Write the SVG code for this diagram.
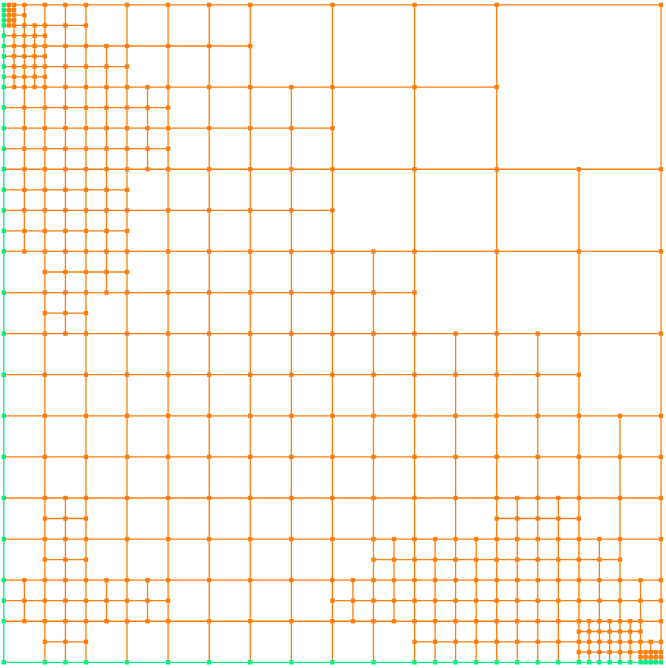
<svg xmlns="http://www.w3.org/2000/svg" width="666" height="668" viewBox="0 0 666 668">
<style>
.eo{fill:none;stroke:#ff7f0e;stroke-width:1.3}
.eg{fill:none;stroke:#00f080;stroke-width:1.3}
.no{fill:none;stroke:none;marker-start:url(#mo);marker-mid:url(#mo);marker-end:url(#mo)}
.ng{fill:none;stroke:none;marker-start:url(#mg);marker-mid:url(#mg);marker-end:url(#mg)}
</style>
<defs>
<marker id="mo" markerUnits="userSpaceOnUse" markerWidth="0.106" markerHeight="0.106" refX="0.053" refY="0.053" overflow="visible"><rect width="0.106" height="0.106" fill="#ff7f0e"/></marker>
<marker id="mg" markerUnits="userSpaceOnUse" markerWidth="0.106" markerHeight="0.106" refX="0.053" refY="0.053" overflow="visible"><rect width="0.106" height="0.106" fill="#00f080"/></marker>
</defs>
<rect width="666" height="668" fill="#ffffff"/>
<g transform="translate(3.8,4.9) scale(41.075,41.09)">
<g id="connectors">
<path class="eo" vector-effect="non-scaling-stroke" d="M0 0H16M0 .125H.25M0 .25H.5M0 .375H.25M0 .5H2M0 .75H1M0 1H6M0 1.25H1M0 1.5H3M0 1.75H1M0 2H12M0 2.5H4M0 3H8M0 3.5H4M0 4H16M0 4.5H3M0 5H8M0 5.5H3M0 6H16M1 6.5H3M0 7H10M1 7.5H2M0 8H16M0 9H14M0 10H16M0 11H16M0 12H16M1 12.5H2M12 12.5H14M0 13H16M1 13.5H2M9 13.5H15M0 14H16M0 14.5H4M8 14.5H16M0 15H16M14 15.25H15.5M1 15.5H2M10 15.5H16M14 15.75H16M15.5 15.875H16"/>
<path class="eo" vector-effect="non-scaling-stroke" d="M.125 0V.5M.25 0V2M.5 0V6M.5 14V15M.75 .5V2M1 0V16M1.5 0V8M1.5 12V16M2 0V16M2.5 1V7M2.5 14V15M3 0V16M3.5 2V4M3.5 14V15M4 0V16M5 0V16M6 0V16M7 2V16M8 0V16M8.5 14V15M9 6V16M9.5 13V15M10 0V16M10.5 13V16M11 8V16M11.5 13V16M12 0V16M12.5 12V16M13 8V16M13.5 12V16M14 4V16M14.25 15V16M14.5 13V16M14.75 15V16M15 10V16M15.25 15V16M15.5 14V16M15.625 15.75V16M15.75 15.5V16M15.875 15.75V16M16 0V16"/>
<path class="eg" vector-effect="non-scaling-stroke" d="M0 0V16M0 16H16"/>
</g>
<g id="nodes">
<path class="no" d="M.125 0H.25H.5H1H1.5H2H3H4H5H6H8H10H12H16"/>
<path class="no" d="M.125 .125H.25"/>
<path class="no" d="M.125 .25H.25H.5"/>
<path class="no" d="M.125 .375H.25"/>
<path class="no" d="M.125 .5H.25H.5H.75H1H1.5H2"/>
<path class="no" d="M.25 .75H.5H.75H1"/>
<path class="no" d="M.25 1H.5H.75H1H1.5H2H2.5H3H4H5H6"/>
<path class="no" d="M.25 1.25H.5H.75H1"/>
<path class="no" d="M.25 1.5H.5H.75H1H1.5H2H2.5H3"/>
<path class="no" d="M.25 1.75H.5H.75H1"/>
<path class="no" d="M.25 2H.5H.75H1H1.5H2H2.5H3H3.5H4H5H6H7H8H10H12"/>
<path class="no" d="M.5 2.5H1H1.5H2H2.5H3H3.5H4"/>
<path class="no" d="M.5 3H1H1.5H2H2.5H3H3.5H4H5H6H7H8"/>
<path class="no" d="M.5 3.5H1H1.5H2H2.5H3H3.5H4"/>
<path class="no" d="M.5 4H1H1.5H2H2.5H3H3.5H4H5H6H7H8H10H12H14H16"/>
<path class="no" d="M.5 4.5H1H1.5H2H2.5H3"/>
<path class="no" d="M.5 5H1H1.5H2H2.5H3H4H5H6H7H8"/>
<path class="no" d="M.5 5.5H1H1.5H2H2.5H3"/>
<path class="no" d="M.5 6H1H1.5H2H2.5H3H4H5H6H7H8H9H10H12H14H16"/>
<path class="no" d="M1 6.5H1.5H2H2.5H3"/>
<path class="no" d="M1 7H1.5H2H2.5H3H4H5H6H7H8H9H10"/>
<path class="no" d="M1 7.5H1.5H2"/>
<path class="no" d="M1 8H1.5H2H3H4H5H6H7H8H9H10H11H12H13H14H16"/>
<path class="no" d="M1 9H2H3H4H5H6H7H8H9H10H11H12H13H14"/>
<path class="no" d="M1 10H2H3H4H5H6H7H8H9H10H11H12H13H14H15H16"/>
<path class="no" d="M1 11H2H3H4H5H6H7H8H9H10H11H12H13H14H15H16"/>
<path class="no" d="M1 12H1.5H2H3H4H5H6H7H8H9H10H11H12H12.5H13H13.5H14H15H16"/>
<path class="no" d="M1 12.5H1.5H2M12 12.5H12.5H13H13.5H14"/>
<path class="no" d="M1 13H1.5H2H3H4H5H6H7H8H9H9.5H10H10.5H11H11.5H12H12.5H13H13.5H14H14.5H15H16"/>
<path class="no" d="M1 13.5H1.5H2M9 13.5H9.5H10H10.5H11H11.5H12H12.5H13H13.5H14H14.5H15"/>
<path class="no" d="M.5 14H1H1.5H2H2.5H3H3.5H4H5H6H7H8H8.5H9H9.5H10H10.5H11H11.5H12H12.5H13H13.5H14H14.5H15H15.5H16"/>
<path class="no" d="M.5 14.5H1H1.5H2H2.5H3H3.5H4M8 14.5H8.5H9H9.5H10H10.5H11H11.5H12H12.5H13H13.5H14H14.5H15H15.5H16"/>
<path class="no" d="M.5 15H1H1.5H2H2.5H3H3.5H4H5H6H7H8H8.5H9H9.5H10H10.5H11H11.5H12H12.5H13H13.5H14H14.25H14.5H14.75H15H15.25H15.5H16"/>
<path class="no" d="M14 15.25H14.25H14.5H14.75H15H15.25H15.5"/>
<path class="no" d="M1 15.5H1.5H2M10 15.5H10.5H11H11.5H12H12.5H13H13.5H14H14.25H14.5H14.75H15H15.25H15.5H15.75H16"/>
<path class="no" d="M14 15.75H14.25H14.5H14.75H15H15.25H15.5H15.625H15.75H15.875H16"/>
<path class="no" d="M15.5 15.875H15.625H15.75H15.875H16"/>
<path class="ng" d="M0 0V.125V.25V.375V.5V.75V1V1.25V1.5V1.75V2V2.5V3V3.5V4V4.5V5V5.5V6V7V8V9V10V11V12V13V14V14.5V15V16"/>
<path class="ng" d="M1 16H1.5H2H3H4H5H6H7H8H9H10H10.5H11H11.5H12H12.5H13H13.5H14H14.25H14.5H14.75H15H15.25H15.5H15.625H15.75H15.875H16"/>
</g>
</g>
</svg>
